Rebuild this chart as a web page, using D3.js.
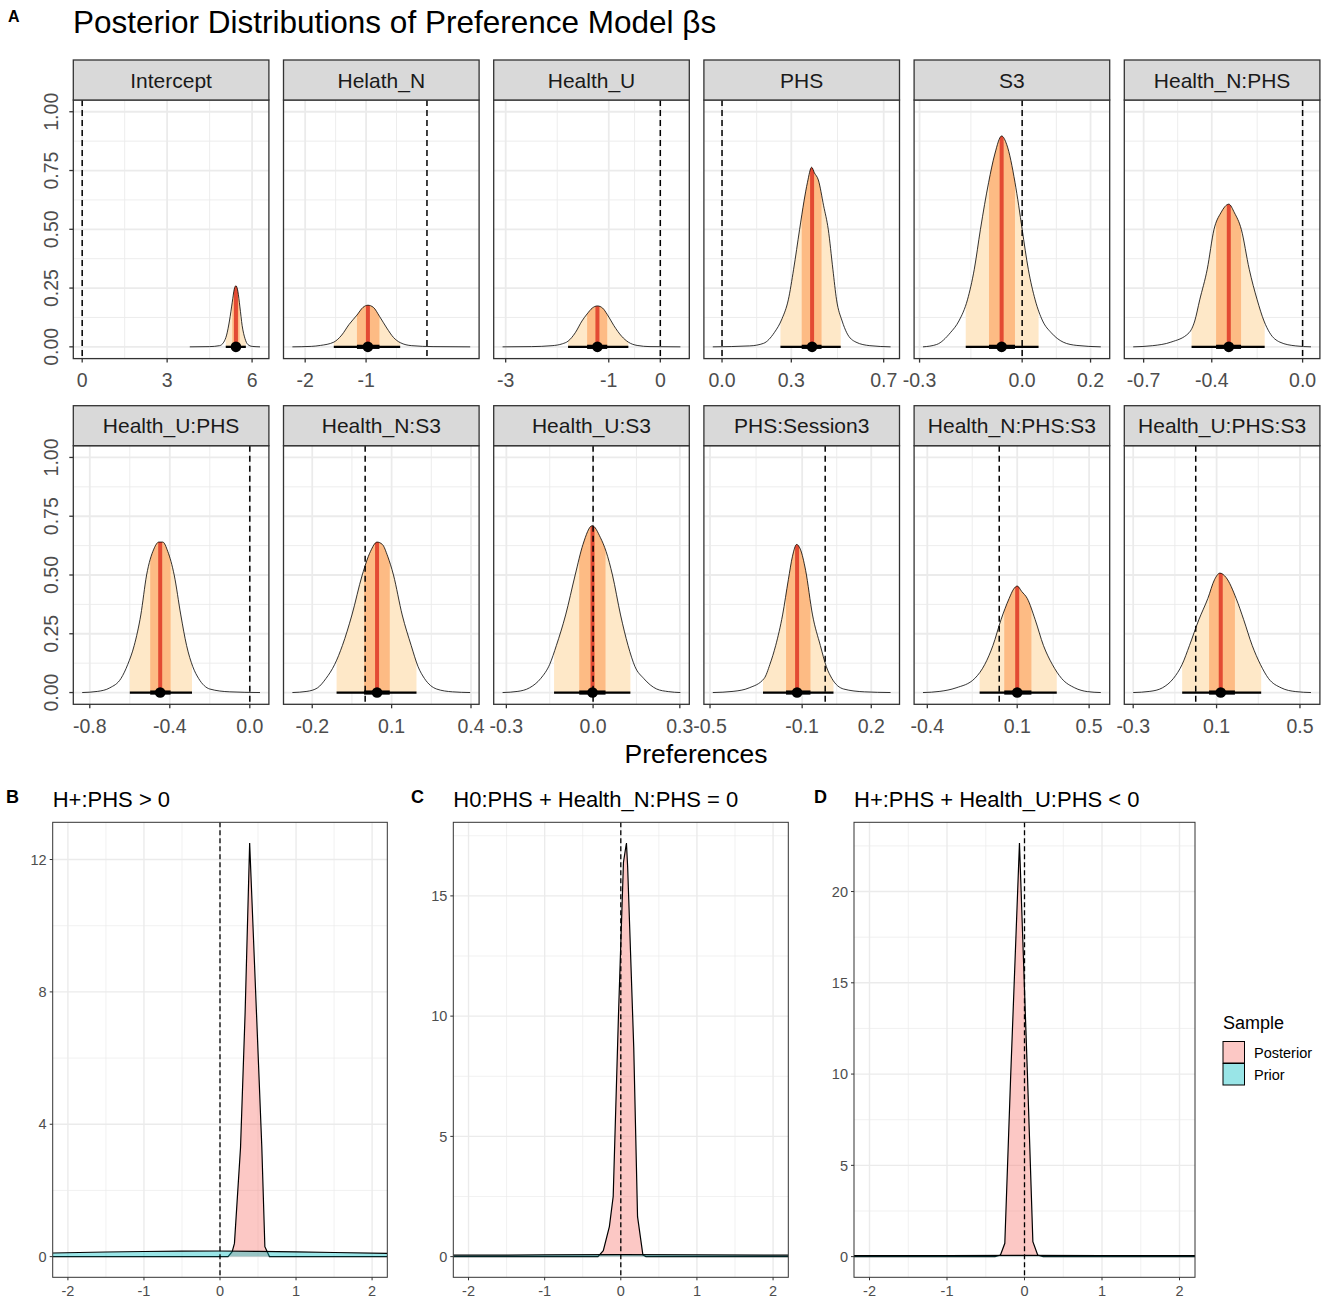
<!DOCTYPE html>
<html>
<head>
<meta charset="utf-8">
<script src="https://cdn.jsdelivr.net/npm/d3@7"></script>
<style>
  body { margin: 0; background: #ffffff; }
  text { font-family: "Liberation Sans", Arial, Helvetica, sans-serif; }
</style>
</head>
<body>
<svg id="chart"></svg>
<script>
// ---- panel A: posterior of each beta ----
const terms = ["Intercept", "Helath_N", "Health_U", "PHS", "S3", "Health_N:PHS",
               "Health_U:PHS", "Health_N:S3", "Health_U:S3", "PHS:Session3", "Health_N:PHS:S3", "Health_U:PHS:S3"];

const medians = [5.43, -0.97, -1.22, 0.39, -0.06, -0.325, -0.448, 0.045, -0.002, -0.122, 0.1, 0.12];

const ci95 = [[5.07, 5.78], [-1.53, -0.44], [-1.79, -0.62], [0.253, 0.514], [-0.165, 0.048], [-0.489, -0.167],
              [-0.6, -0.289], [-0.108, 0.194], [-0.135, 0.129], [-0.27, 0.036], [-0.109, 0.32], [-0.065, 0.314]];

const ci66 = [[5.3, 5.56], [-1.15, -0.78], [-1.42, -1.03], [0.345, 0.431], [-0.097, -0.021], [-0.381, -0.271],
              [-0.498, -0.396], [-0.004, 0.093], [-0.048, 0.043], [-0.17, -0.064], [0.028, 0.179], [0.064, 0.188]];

const xTicks = [[0, 3, 6], [-2, -1], [-3, -1, 0], [0, 0.3, 0.7], [-0.3, 0, 0.2], [-0.7, -0.4, 0],
                [-0.8, -0.4, 0], [-0.2, 0.1, 0.4], [-0.3, 0, 0.3], [-0.5, -0.1, 0.2], [-0.4, 0.1, 0.5], [-0.3, 0.1, 0.5]];

const yTicks = [0, 0.25, 0.5, 0.75, 1];

// density outlines: [x, height]
const densities = [
  [[3.8,0],[4.5,0.001],[4.85,0.005],[5.0,0.02],[5.1,0.05],[5.2,0.11],[5.3,0.19],[5.37,0.245],[5.43,0.26],[5.5,0.235],[5.57,0.17],[5.65,0.09],[5.75,0.035],[5.85,0.01],[6.0,0.002],[6.28,0]],
  [[-2.21,0],[-1.9,0.002],[-1.75,0.006],[-1.53,0.02],[-1.4,0.05],[-1.28,0.095],[-1.15,0.135],[-1.05,0.168],[-0.97,0.177],[-0.88,0.168],[-0.78,0.13],[-0.66,0.08],[-0.55,0.04],[-0.44,0.018],[-0.25,0.005],[0.1,0.001],[0.71,0]],
  [[-3.06,0],[-2.5,0.001],[-2.1,0.005],[-1.9,0.013],[-1.79,0.024],[-1.65,0.06],[-1.52,0.11],[-1.42,0.14],[-1.32,0.165],[-1.22,0.174],[-1.12,0.165],[-1.03,0.138],[-0.9,0.09],[-0.75,0.045],[-0.62,0.02],[-0.45,0.006],[-0.2,0.001],[0.39,0]],
  [[-0.04,0],[0.12,0.004],[0.18,0.015],[0.226,0.06],[0.26,0.12],[0.287,0.2],[0.31,0.33],[0.336,0.5],[0.355,0.62],[0.37,0.7],[0.388,0.764],[0.4,0.74],[0.417,0.71],[0.44,0.6],[0.46,0.5],[0.48,0.33],[0.496,0.2],[0.52,0.11],[0.54,0.06],[0.58,0.02],[0.64,0.005],[0.73,0]],
  [[-0.29,0],[-0.25,0.01],[-0.21,0.06],[-0.185,0.11],[-0.16,0.2],[-0.14,0.33],[-0.122,0.5],[-0.098,0.7],[-0.08,0.82],[-0.06,0.897],[-0.045,0.86],[-0.021,0.7],[-0.01,0.6],[0.0,0.5],[0.018,0.33],[0.038,0.2],[0.06,0.11],[0.085,0.06],[0.12,0.02],[0.16,0.006],[0.23,0]],
  [[-0.746,0],[-0.66,0.005],[-0.58,0.02],[-0.5,0.06],[-0.475,0.11],[-0.453,0.2],[-0.42,0.33],[-0.39,0.5],[-0.36,0.57],[-0.325,0.607],[-0.3,0.57],[-0.27,0.5],[-0.235,0.33],[-0.2,0.2],[-0.17,0.11],[-0.145,0.06],[-0.1,0.02],[-0.03,0.004],[0.037,0]],
  [[-0.838,0],[-0.76,0.005],[-0.7,0.02],[-0.644,0.06],[-0.61,0.12],[-0.578,0.2],[-0.545,0.33],[-0.516,0.5],[-0.48,0.61],[-0.455,0.64],[-0.435,0.64],[-0.41,0.6],[-0.378,0.5],[-0.345,0.33],[-0.316,0.2],[-0.285,0.11],[-0.256,0.06],[-0.2,0.015],[-0.1,0.003],[0.051,0]],
  [[-0.275,0],[-0.22,0.005],[-0.18,0.02],[-0.148,0.06],[-0.115,0.12],[-0.086,0.2],[-0.05,0.33],[-0.011,0.5],[0.02,0.6],[0.045,0.64],[0.065,0.63],[0.085,0.58],[0.107,0.5],[0.14,0.33],[0.174,0.2],[0.2,0.11],[0.224,0.06],[0.27,0.015],[0.33,0.003],[0.397,0]],
  [[-0.313,0],[-0.26,0.005],[-0.22,0.02],[-0.181,0.06],[-0.15,0.12],[-0.127,0.2],[-0.095,0.33],[-0.062,0.5],[-0.035,0.63],[-0.003,0.71],[0.025,0.66],[0.045,0.6],[0.067,0.5],[0.095,0.33],[0.121,0.2],[0.145,0.11],[0.175,0.06],[0.22,0.015],[0.26,0.004],[0.302,0]],
  [[-0.488,0],[-0.4,0.005],[-0.33,0.02],[-0.265,0.06],[-0.24,0.12],[-0.215,0.2],[-0.185,0.33],[-0.16,0.48],[-0.142,0.58],[-0.124,0.63],[-0.108,0.61],[-0.085,0.52],[-0.055,0.33],[-0.021,0.2],[0.005,0.11],[0.029,0.06],[0.08,0.015],[0.17,0.003],[0.284,0]],
  [[-0.424,0],[-0.33,0.005],[-0.24,0.02],[-0.136,0.06],[-0.08,0.12],[-0.035,0.2],[0.01,0.31],[0.055,0.4],[0.08,0.44],[0.1,0.453],[0.125,0.43],[0.156,0.4],[0.2,0.31],[0.246,0.2],[0.295,0.12],[0.347,0.06],[0.42,0.02],[0.49,0.004],[0.565,0]],
  [[-0.3,0],[-0.22,0.005],[-0.16,0.02],[-0.107,0.06],[-0.065,0.12],[-0.03,0.2],[0.015,0.31],[0.058,0.4],[0.09,0.48],[0.116,0.508],[0.145,0.49],[0.194,0.4],[0.23,0.31],[0.271,0.2],[0.31,0.12],[0.349,0.06],[0.41,0.02],[0.48,0.004],[0.553,0]]
];

// ---- panels B, C, D: hypothesis tests ----
const hypLetters = ["B", "C", "D"];
const hypTitles = ["H+:PHS > 0", "H0:PHS + Health_N:PHS = 0", "H+:PHS + Health_U:PHS < 0"];
const hypXTicks = [-2, -1, 0, 1, 2];
const hypYTicks = [[0, 4, 8, 12], [0, 5, 10, 15], [0, 5, 10, 15, 20]];
const hypPosterior = [
  [[-2.2,0],[0.105,0],[0.16,0.15],[0.19,0.4],[0.27,3.3],[0.33,7.35],[0.39,12.5],[0.48,7.35],[0.55,3.3],[0.59,0.3],[0.65,0],[2.2,0]],
  [[-2.2,0],[-0.3,0],[-0.23,0.25],[-0.15,1.25],[-0.1,2.5],[-0.03,10.1],[0.035,16.4],[0.074,17.2],[0.09,16.2],[0.17,8.7],[0.22,1.66],[0.29,0.07],[0.33,0],[2.2,0]],
  [[-2.2,0],[-0.38,0],[-0.31,0.09],[-0.254,0.73],[-0.18,9.7],[-0.065,22.66],[0.04,9.7],[0.108,0.82],[0.17,0.09],[0.24,0],[2.2,0]]
];
const hypPrior = [
  [[-2.2,0.11],[-1.5,0.14],[-1,0.155],[-0.5,0.165],[0,0.17],[0.5,0.16],[1,0.145],[1.5,0.125],[2.2,0.1]],
  [[-2.2,0.06],[-1,0.07],[0,0.08],[1,0.07],[2.2,0.06]],
  [[-2.2,0.05],[-1,0.06],[0,0.07],[1,0.06],[2.2,0.05]]
];
const sampleNames = ["Posterior", "Prior"];
const sampleFills = ["rgba(248,118,109,0.4)", "rgba(0,191,196,0.4)"];

const lightBand = "#fee8c8", darkBand = "#fdbb84", medianRed = "#e34a33";
const gridCol = "#ebebeb", borderCol = "#333333", tickText = "#4d4d4d";

const loc = d3.formatLocale({decimal: ".", thousands: ",", grouping: [3], currency: ["", ""], minus: "-"});

const svg = d3.select("#chart").attr("width", 1325).attr("height", 1304);
svg.append("rect").attr("width", 1325).attr("height", 1304).attr("fill", "#ffffff");

// ggplot style minor breaks: midpoints, extended one step each side
function minorBreaks(b, lim) {
  const bd = b[1] - b[0];
  const bb = b.slice();
  if (lim[0] < bb[0]) bb.unshift(bb[0] - bd);
  if (lim[1] > bb[bb.length - 1]) bb.push(bb[bb.length - 1] + bd);
  const out = [];
  for (let i = 0; i < bb.length - 1; i++) out.push((bb[i] + bb[i + 1]) / 2);
  return out.filter(v => v > lim[0] && v < lim[1]);
}

// titles
svg.append("text").attr("x", 8).attr("y", 22).attr("font-size", 16).attr("font-weight", "bold").text("A");
svg.append("text").attr("x", 73).attr("y", 33).attr("font-size", 31.5).attr("fill", "#000").text("Posterior Distributions of Preference Model βs");

terms.forEach((term, i) => {
  const r = Math.floor(i / 6), c = i % 6;
  const left = 73.3 + c * 210.2, width = 195.6;
  const stripTop = r === 0 ? 60 : 405.7;
  const top = stripTop + 40, height = 258.6;
  const dens = densities[i];
  const ext = d3.extent(dens.map(d => d[0]).concat([0]));
  const pad = (ext[1] - ext[0]) * 0.05;
  const x = d3.scaleLinear().domain([ext[0] - pad, ext[1] + pad]).range([left, left + width]);
  const y = d3.scaleLinear().domain([-0.05, 1.05]).range([top + height, top]);
  const g = svg.append("g");

  g.append("rect").attr("x", left).attr("y", top).attr("width", width).attr("height", height).attr("fill", "#fff");

  // grid
  const xMinor = minorBreaks(xTicks[i], x.domain());
  const yMinor = minorBreaks(yTicks, y.domain());
  g.selectAll(null).data(yMinor).enter().append("line")
    .attr("x1", left).attr("x2", left + width).attr("y1", d => y(d)).attr("y2", d => y(d))
    .attr("stroke", gridCol).attr("stroke-width", 0.9);
  g.selectAll(null).data(xMinor).enter().append("line")
    .attr("y1", top).attr("y2", top + height).attr("x1", d => x(d)).attr("x2", d => x(d))
    .attr("stroke", gridCol).attr("stroke-width", 0.9);
  g.selectAll(null).data(yTicks).enter().append("line")
    .attr("x1", left).attr("x2", left + width).attr("y1", d => y(d)).attr("y2", d => y(d))
    .attr("stroke", gridCol).attr("stroke-width", 1.8);
  g.selectAll(null).data(xTicks[i]).enter().append("line")
    .attr("y1", top).attr("y2", top + height).attr("x1", d => x(d)).attr("x2", d => x(d))
    .attr("stroke", gridCol).attr("stroke-width", 1.8);

  // density shape used as clip for the interval bands
  const area = d3.area().x(d => x(d[0])).y0(y(0)).y1(d => y(d[1])).curve(d3.curveMonotoneX);
  const line = d3.line().x(d => x(d[0])).y(d => y(d[1])).curve(d3.curveMonotoneX);
  const clipId = "dens" + i;
  g.append("clipPath").attr("id", clipId).append("path").attr("d", area(dens));
  const bands = g.append("g").attr("clip-path", `url(#${clipId})`);
  bands.append("rect").attr("x", x(ci95[i][0])).attr("width", x(ci95[i][1]) - x(ci95[i][0]))
    .attr("y", top).attr("height", y(0) - top).attr("fill", lightBand);
  bands.append("rect").attr("x", x(ci66[i][0])).attr("width", x(ci66[i][1]) - x(ci66[i][0]))
    .attr("y", top).attr("height", y(0) - top).attr("fill", darkBand);
  bands.append("line").attr("x1", x(medians[i])).attr("x2", x(medians[i]))
    .attr("y1", top).attr("y2", y(0)).attr("stroke", medianRed).attr("stroke-width", 4);
  g.append("path").attr("d", line(dens)).attr("fill", "none").attr("stroke", "#000").attr("stroke-width", 0.8);

  // reference line at zero
  g.append("line").attr("x1", x(0)).attr("x2", x(0)).attr("y1", top).attr("y2", top + height)
    .attr("stroke", "#000").attr("stroke-width", 1.5).attr("stroke-dasharray", "6,4");

  // point interval
  g.append("line").attr("x1", x(ci95[i][0])).attr("x2", x(ci95[i][1])).attr("y1", y(0)).attr("y2", y(0))
    .attr("stroke", "#000").attr("stroke-width", 2.3);
  g.append("line").attr("x1", x(ci66[i][0])).attr("x2", x(ci66[i][1])).attr("y1", y(0)).attr("y2", y(0))
    .attr("stroke", "#000").attr("stroke-width", 4.2);
  g.append("circle").attr("cx", x(medians[i])).attr("cy", y(0)).attr("r", 5.3).attr("fill", "#000");

  g.append("rect").attr("x", left).attr("y", top).attr("width", width).attr("height", height)
    .attr("fill", "none").attr("stroke", borderCol).attr("stroke-width", 1.3);

  // strip
  g.append("rect").attr("x", left).attr("y", stripTop).attr("width", width).attr("height", 40)
    .attr("fill", "#d9d9d9").attr("stroke", borderCol).attr("stroke-width", 1.3);
  g.append("text").attr("x", left + width / 2).attr("y", stripTop + 27.5).attr("text-anchor", "middle")
    .attr("font-size", 21).attr("fill", "#1a1a1a").text(term);

  // x axis
  const allInt = xTicks[i].every(v => Number.isInteger(v));
  const fmt = allInt ? loc.format("d") : loc.format(".1f");
  const base = top + height;
  g.selectAll(null).data(xTicks[i]).enter().append("line")
    .attr("x1", d => x(d)).attr("x2", d => x(d)).attr("y1", base).attr("y2", base + 4)
    .attr("stroke", borderCol).attr("stroke-width", 1.3);
  g.selectAll(null).data(xTicks[i]).enter().append("text")
    .attr("x", d => x(d)).attr("y", base + 28.5).attr("text-anchor", "middle")
    .attr("font-size", 19.5).attr("fill", tickText).text(d => fmt(d));

  // y axis on first column
  if (c === 0) {
    const yf = loc.format(".2f");
    g.selectAll(null).data(yTicks).enter().append("line")
      .attr("x1", left - 4).attr("x2", left).attr("y1", d => y(d)).attr("y2", d => y(d))
      .attr("stroke", borderCol).attr("stroke-width", 1.3);
    g.selectAll(null).data(yTicks).enter().append("text")
      .attr("transform", d => `translate(${left - 22},${y(d)}) rotate(-90)`)
      .attr("text-anchor", "middle").attr("dy", "0.36em")
      .attr("font-size", 19.5).attr("fill", tickText).text(d => yf(d));
  }
});

svg.append("text").attr("x", 696).attr("y", 763).attr("text-anchor", "middle")
  .attr("font-size", 26.5).attr("fill", "#000").text("Preferences");

// ---- hypothesis panels ----
const hypLeft = [52.7, 453.3, 854];
const hypRight = [387.3, 788.3, 1195];
const hypLetterX = [6, 411, 814];
const hypTop = 822.3, hypBottom = 1277.3;

hypTitles.forEach((title, k) => {
  const left = hypLeft[k], right = hypRight[k];
  const x = d3.scaleLinear().domain([-2.2, 2.2]).range([left, right]);
  const ymax = d3.max(hypPosterior[k], d => d[1]);
  const y = d3.scaleLinear().domain([-0.05 * ymax, 1.05 * ymax]).range([hypBottom, hypTop]);
  const g = svg.append("g");

  svg.append("text").attr("x", hypLetterX[k]).attr("y", 803).attr("font-size", 18).attr("font-weight", "bold").text(hypLetters[k]);
  svg.append("text").attr("x", left).attr("y", 807).attr("font-size", 22).attr("fill", "#000").text(title);

  const xMinor = minorBreaks(hypXTicks, x.domain());
  const yMinor = minorBreaks(hypYTicks[k], y.domain());
  g.selectAll(null).data(yMinor).enter().append("line")
    .attr("x1", left).attr("x2", right).attr("y1", d => y(d)).attr("y2", d => y(d))
    .attr("stroke", gridCol).attr("stroke-width", 0.7);
  g.selectAll(null).data(xMinor).enter().append("line")
    .attr("y1", hypTop).attr("y2", hypBottom).attr("x1", d => x(d)).attr("x2", d => x(d))
    .attr("stroke", gridCol).attr("stroke-width", 0.7);
  g.selectAll(null).data(hypYTicks[k]).enter().append("line")
    .attr("x1", left).attr("x2", right).attr("y1", d => y(d)).attr("y2", d => y(d))
    .attr("stroke", gridCol).attr("stroke-width", 1.4);
  g.selectAll(null).data(hypXTicks).enter().append("line")
    .attr("y1", hypTop).attr("y2", hypBottom).attr("x1", d => x(d)).attr("x2", d => x(d))
    .attr("stroke", gridCol).attr("stroke-width", 1.4);

  const clipId = "hyp" + k;
  g.append("clipPath").attr("id", clipId).append("rect")
    .attr("x", left).attr("y", hypTop).attr("width", right - left).attr("height", hypBottom - hypTop);
  const plot = g.append("g").attr("clip-path", `url(#${clipId})`);
  const area = d3.area().x(d => x(d[0])).y0(y(0)).y1(d => y(d[1]));
  const line = d3.line().x(d => x(d[0])).y(d => y(d[1]));
  [hypPosterior[k], hypPrior[k]].forEach((dens, s) => {
    plot.append("path").attr("d", area(dens)).attr("fill", sampleFills[s]);
    plot.append("path").attr("d", line(dens)).attr("fill", "none").attr("stroke", "#000").attr("stroke-width", 1.2);
  });
  plot.append("line").attr("x1", x(0)).attr("x2", x(0)).attr("y1", hypTop).attr("y2", hypBottom)
    .attr("stroke", "#000").attr("stroke-width", 1.3).attr("stroke-dasharray", "5,3");

  g.append("rect").attr("x", left).attr("y", hypTop).attr("width", right - left).attr("height", hypBottom - hypTop)
    .attr("fill", "none").attr("stroke", borderCol).attr("stroke-width", 1);

  const fmt = loc.format("d");
  g.selectAll(null).data(hypXTicks).enter().append("line")
    .attr("x1", d => x(d)).attr("x2", d => x(d)).attr("y1", hypBottom).attr("y2", hypBottom + 3)
    .attr("stroke", borderCol).attr("stroke-width", 1);
  g.selectAll(null).data(hypXTicks).enter().append("text")
    .attr("x", d => x(d)).attr("y", hypBottom + 18.5).attr("text-anchor", "middle")
    .attr("font-size", 14.5).attr("fill", tickText).text(d => fmt(d));
  g.selectAll(null).data(hypYTicks[k]).enter().append("line")
    .attr("x1", left - 3).attr("x2", left).attr("y1", d => y(d)).attr("y2", d => y(d))
    .attr("stroke", borderCol).attr("stroke-width", 1);
  g.selectAll(null).data(hypYTicks[k]).enter().append("text")
    .attr("x", left - 6).attr("y", d => y(d)).attr("dy", "0.36em").attr("text-anchor", "end")
    .attr("font-size", 14.5).attr("fill", tickText).text(d => fmt(d));
});

// legend
const leg = svg.append("g");
leg.append("text").attr("x", 1223).attr("y", 1029).attr("font-size", 18).attr("fill", "#000").text("Sample");
sampleNames.forEach((name, s) => {
  const ky = 1041.5 + s * 22;
  leg.append("rect").attr("x", 1223).attr("y", ky).attr("width", 21.5).attr("height", 21.5)
    .attr("fill", sampleFills[s]).attr("stroke", "#000").attr("stroke-width", 1);
  leg.append("text").attr("x", 1254).attr("y", ky + 16).attr("font-size", 14.5).attr("fill", "#000").text(name);
});
</script>
</body>
</html>
